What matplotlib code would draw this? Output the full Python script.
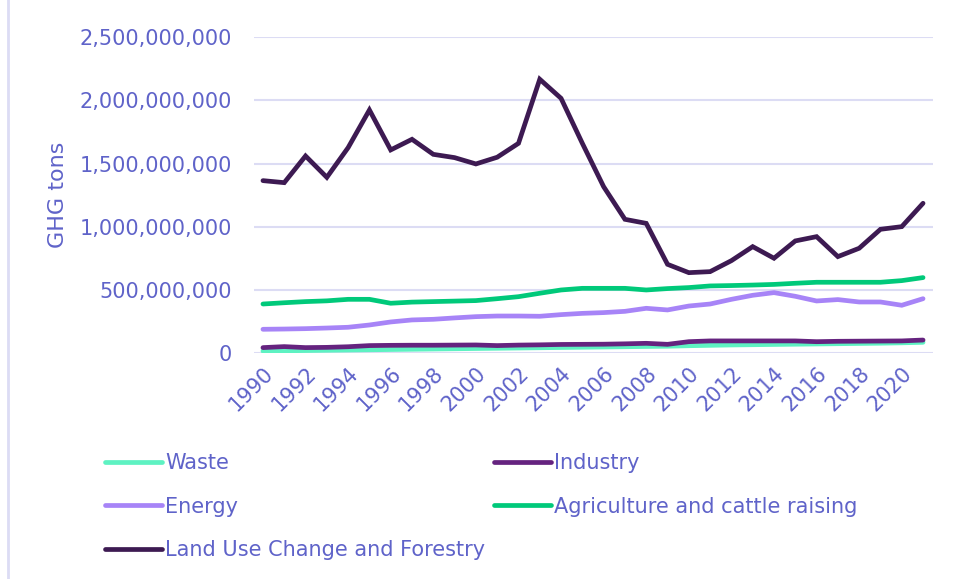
import matplotlib
matplotlib.use('Agg')
import matplotlib.pyplot as plt
from matplotlib.lines import Line2D
from matplotlib.ticker import FuncFormatter

# %% Data (GHG tons per sector)
years = list(range(1990, 2022))

waste = [18e6, 20e6, 22e6, 24e6, 26e6, 28e6, 30e6, 32e6, 34e6, 36e6,
         38e6, 40e6, 42e6, 44e6, 46e6, 48e6, 50e6, 52e6, 54e6, 56e6,
         60e6, 63e6, 66e6, 68e6, 70e6, 72e6, 74e6, 76e6, 78e6, 80e6,
         83e6, 87e6]
industry = [45e6, 53e6, 45e6, 47e6, 52e6, 61e6, 63e6, 64e6, 64e6, 65e6,
            66e6, 61e6, 65e6, 67e6, 70e6, 71e6, 72e6, 75e6, 79e6, 71e6,
            92e6, 98e6, 98e6, 98e6, 98e6, 98e6, 92e6, 95e6, 96e6, 97e6,
            98e6, 105e6]
energy = [190e6, 192e6, 195e6, 200e6, 206e6, 224e6, 248e6, 264e6, 269e6, 280e6,
          290e6, 295e6, 295e6, 293e6, 306e6, 316e6, 322e6, 332e6, 356e6, 343e6,
          374e6, 390e6, 427e6, 459e6, 480e6, 451e6, 414e6, 425e6, 406e6, 406e6,
          380e6, 432e6]
agriculture = [390e6, 400e6, 409e6, 415e6, 427e6, 427e6, 396e6, 405e6, 409e6, 413e6,
               417e6, 432e6, 448e6, 475e6, 501e6, 514e6, 514e6, 514e6, 501e6, 512e6,
               520e6, 533e6, 536e6, 540e6, 545e6, 554e6, 562e6, 562e6, 562e6, 562e6,
               575e6, 599e6]
land_use = [1366e6, 1350e6, 1561e6, 1392e6, 1627e6, 1925e6, 1609e6, 1693e6, 1574e6, 1548e6,
            1498e6, 1551e6, 1661e6, 2168e6, 2017e6, 1661e6, 1318e6, 1060e6, 1028e6, 704e6,
            638e6, 646e6, 733e6, 844e6, 752e6, 889e6, 923e6, 765e6, 831e6, 981e6,
            1002e6, 1187e6]

series = [
    ('Waste', waste, '#5ef2c2'),
    ('Industry', industry, '#65237f'),
    ('Energy', energy, '#a784f7'),
    ('Agriculture and cattle raising', agriculture, '#00c97a'),
    ('Land Use Change and Forestry', land_use, '#3d1a52'),
]

TEXT_COLOR = '#5f63c9'
GRID_COLOR = '#dcdcf4'

plt.rcParams['font.family'] = ['DejaVu Sans']

# %% Plot
fig = plt.figure(figsize=(9.56, 5.79), dpi=100)
ax = fig.add_axes([0.2657, 0.3898, 0.7103, 0.5458])

handles = {}
for name, values, color in series:
    line, = ax.plot(years, values, color=color, lw=3.4,
                    solid_capstyle='round', solid_joinstyle='miter', label=name)
    handles[name] = line

ax.set_xlim(1989.58, 2021.47)
ax.set_ylim(0, 2.5e9)
ax.set_yticks([0, 5e8, 1e9, 1.5e9, 2e9, 2.5e9])
ax.yaxis.set_major_formatter(FuncFormatter(lambda v, _: f'{int(v):,}'))
ax.set_xticks(years[::2])
ax.set_xticklabels([str(y) for y in years[::2]], rotation=45, ha='right',
                   rotation_mode='anchor')

ax.grid(axis='y', color=GRID_COLOR, lw=1.5)
ax.set_axisbelow(True)
for spine in ax.spines.values():
    spine.set_visible(False)
ax.tick_params(axis='y', length=0, pad=16, labelsize=15, labelcolor=TEXT_COLOR)
ax.tick_params(axis='x', length=0, pad=7, labelsize=15, labelcolor=TEXT_COLOR)

ax.set_ylabel('GHG tons', fontsize=16, color=TEXT_COLOR)
ax.yaxis.set_label_coords(-0.274, 0.5)

# legend laid out row by row: two columns
order = ['Waste', 'Energy', 'Land Use Change and Forestry',
         'Industry', 'Agriculture and cattle raising']
leg = fig.legend([handles[n] for n in order], order, ncol=2,
                 loc='upper left', bbox_to_anchor=(0.1098, 0.2176),
                 frameon=False, fontsize=15, handlelength=2.74,
                 handletextpad=0.15, columnspacing=0.4, labelspacing=1.13,
                 borderaxespad=0, borderpad=0)
for text in leg.get_texts():
    text.set_color(TEXT_COLOR)
for lh in leg.get_lines():
    lh.set_linewidth(3.4)

# chart border on the left side
fig.add_artist(Line2D([7.5 / 956, 7.5 / 956], [0, 1], color=GRID_COLOR, lw=2,
                      transform=fig.transFigure))

fig.savefig('out.png', dpi=100)
